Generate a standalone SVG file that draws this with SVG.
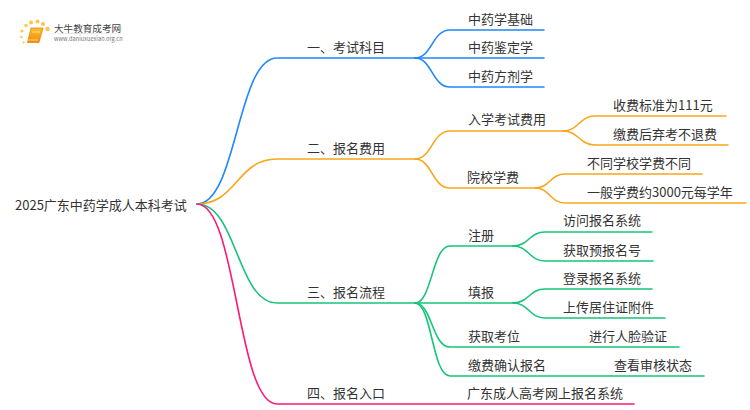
<svg xmlns="http://www.w3.org/2000/svg" width="750" height="410" viewBox="0 0 750 410">
<style>
text{font-family:"Noto Sans CJK SC","Noto Sans",sans-serif;font-size:13px;fill:#333}
path.c{fill:none;stroke-width:1.6;stroke-linecap:round}
.b{stroke:#1e88ff}.o{stroke:#f9a61a}.g{stroke:#17c47a}.p{stroke:#fb1a78}
</style>
<defs>
<linearGradient id="bk" x1="0" y1="0" x2="0" y2="1"><stop offset="0" stop-color="#fbc02d"/><stop offset="1" stop-color="#f08a0c"/></linearGradient>
<linearGradient id="ln" x1="0" y1="0" x2="1" y2="0"><stop offset="0" stop-color="#ddd" stop-opacity="0"/><stop offset=".3" stop-color="#ddd"/><stop offset="1" stop-color="#ddd" stop-opacity="0"/></linearGradient>
</defs>
<rect width="750" height="410" fill="#fff"/>
<g id="logo">
<g fill="#fbc64a"><circle cx="22" cy="31" r="1.5"/><circle cx="26" cy="25.500" r="1.700"/><circle cx="31" cy="22.500" r="2"/><circle cx="37.500" cy="21.500" r="2"/><circle cx="43" cy="24" r="2"/><circle cx="47.500" cy="29" r="2.200"/><circle cx="21.500" cy="37" r="1.200"/><circle cx="23.500" cy="42.500" r="1.100"/></g>
<path d="M31 28H43L39 42.500H27.500Z" fill="url(#bk)" stroke="#e8860c" stroke-width=".8" stroke-linejoin="round"/>
<path d="M32 32H40M28.500 40H38" stroke="#ffe9b0" stroke-width=".8"/>
<rect x="46" y="33" width="88" height="1" fill="url(#ln)"/>
<text x="54" y="31.500" style="font-size:9.600px;fill:#444">大牛教育成考网</text>
<text x="54" y="41" style="font-size:5.700px;fill:#777">www.daniuxuexiao.org.cn</text>
</g>
<g id="connectors">
<path class="c b" d="M197 204C237 204 237 58 277 58H415"/>
<path class="c o" d="M197 204C237 204 237 159 277 159H415"/>
<path class="c g" d="M197 204C237 204 237 303 277 303H415"/>
<path class="c p" d="M197 204C237 204 237 404 277 404H634"/>
<path class="c b" d="M415 58C432 58 432 30 450 30H544"/>
<path class="c b" d="M415 58H544"/>
<path class="c b" d="M415 58C432 58 432 87 450 87H544"/>
<path class="c o" d="M415 159C432 159 432 131 450 131H563"/>
<path class="c o" d="M415 159C432 159 432 188 450 188H535"/>
<path class="c o" d="M563 131C579 131 579 116 595 116H726"/>
<path class="c o" d="M563 131C579 131 579 145 595 145H728"/>
<path class="c o" d="M535 188C550 188 550 174 565 174H702"/>
<path class="c o" d="M535 188C550 188 550 203 565 203H746"/>
<path class="c g" d="M415 303C432 303 432 246 450 246H513"/>
<path class="c g" d="M415 303H513"/>
<path class="c g" d="M415 303C432 303 432 347 450 347H679"/>
<path class="c g" d="M415 303C432 303 432 376 450 376H704"/>
<path class="c g" d="M513 246C529 246 529 232 545 232H652"/>
<path class="c g" d="M513 246C529 246 529 261 545 261H653"/>
<path class="c g" d="M513 303C529 303 529 289 545 289H652"/>
<path class="c g" d="M513 303C529 303 529 318 545 318H665"/>
</g>
<g id="root"><text x="15" y="209.500">2025广东中药学成人本科考试</text></g>
<g id="n1"><text x="307" y="52">一、考试科目</text></g>
<g id="n1a"><text x="468" y="24">中药学基础</text></g>
<g id="n1b"><text x="468" y="52">中药鉴定学</text></g>
<g id="n1c"><text x="468" y="81">中药方剂学</text></g>
<g id="n2"><text x="307" y="153">二、报名费用</text></g>
<g id="n2a"><text x="468" y="124">入学考试费用</text></g>
<g id="n2a1"><text x="613" y="110">收费标准为111元</text></g>
<g id="n2a2"><text x="613" y="139">缴费后弃考不退费</text></g>
<g id="n2b"><text x="467" y="182">院校学费</text></g>
<g id="n2b1"><text x="587" y="168">不同学校学费不同</text></g>
<g id="n2b2"><text x="587" y="197">一般学费约3000元每学年</text></g>
<g id="n3"><text x="307" y="297">三、报名流程</text></g>
<g id="n3a"><text x="468" y="239.500">注册</text></g>
<g id="n3a1"><text x="563" y="225">访问报名系统</text></g>
<g id="n3a2"><text x="563" y="254.500">获取预报名号</text></g>
<g id="n3b"><text x="468" y="297">填报</text></g>
<g id="n3b1"><text x="563" y="282.500">登录报名系统</text></g>
<g id="n3b2"><text x="563" y="311.500">上传居住证附件</text></g>
<g id="n3c"><text x="468" y="340.500">获取考位</text></g>
<g id="n3c1"><text x="589" y="340.500">进行人脸验证</text></g>
<g id="n3d"><text x="468" y="369.500">缴费确认报名</text></g>
<g id="n3d1"><text x="614" y="369.500">查看审核状态</text></g>
<g id="n4"><text x="307" y="398">四、报名入口</text></g>
<g id="n4a"><text x="467" y="398">广东成人高考网上报名系统</text></g>
</svg>
